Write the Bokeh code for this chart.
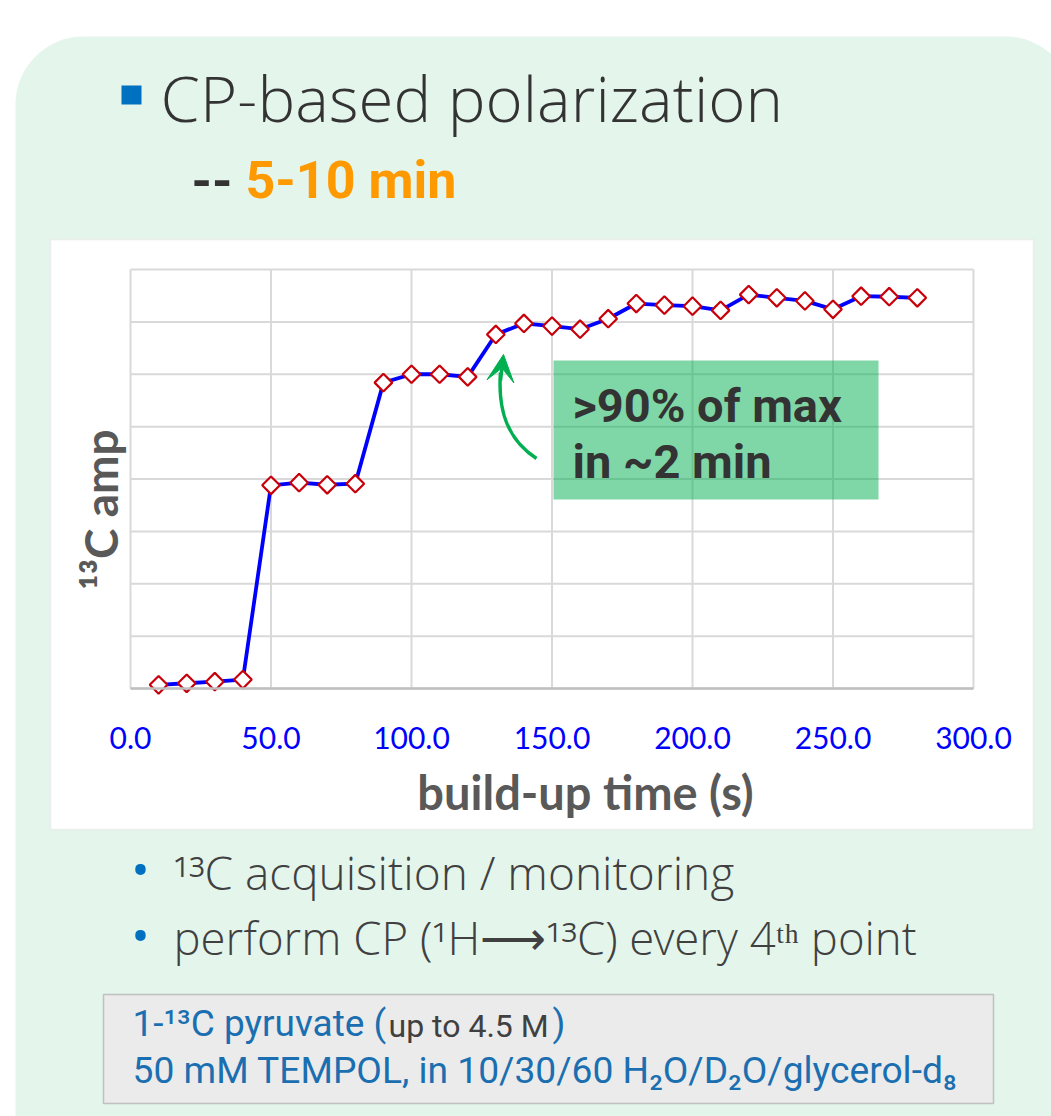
import math
from bokeh.plotting import figure
from bokeh.models import (Range1d, FixedTicker, NumeralTickFormatter, Label,
                          BoxAnnotation, Arrow, VeeHead, LinearAxis)
from bokeh.embed import file_html
from bokeh.resources import INLINE

# ---------------- data ----------------
build_up_time_s = [10, 20, 30, 40, 50, 60, 70, 80, 90, 100, 110, 120, 130, 140,
                   150, 160, 170, 180, 190, 200, 210, 220, 230, 240, 250, 260, 270, 280]
c13_amp = [0.07, 0.10, 0.13, 0.17, 3.88, 3.93, 3.89, 3.91, 5.84, 6.00, 6.00, 5.95,
           6.76, 6.97, 6.92, 6.86, 7.06, 7.35, 7.32, 7.30, 7.22, 7.52, 7.46, 7.40,
           7.24, 7.49, 7.48, 7.46]
x_ticks = [0, 50, 100, 150, 200, 250, 300]
y_ticks = [0, 1, 2, 3, 4, 5, 6, 7, 8]

X_START, X_END = 0, 300
Y_START, Y_END = 0, 8

# ---------------- page geometry (pixels) ----------------
PAGE_W, PAGE_H = 1051, 1116
F_LEFT, F_RIGHT, F_TOP, F_BOTTOM = 130, 973, 269, 688   # plot area

kx = (X_END - X_START) / (F_RIGHT - F_LEFT)
ky = (Y_END - Y_START) / (F_BOTTOM - F_TOP)
t_range = Range1d(X_START - F_LEFT * kx, X_START + (PAGE_W - F_LEFT) * kx)
a_range = Range1d(Y_START - (PAGE_H - F_BOTTOM) * ky, Y_START + F_BOTTOM * ky)

p = figure(width=PAGE_W, height=PAGE_H, output_backend="svg", toolbar_location=None,
           x_range=Range1d(0, PAGE_W), y_range=Range1d(PAGE_H, 0),
           x_axis_type=None, y_axis_type=None, min_border=0)
p.extra_x_ranges = {"t": t_range}
p.extra_y_ranges = {"amp": a_range}
p.border_fill_color = "white"
p.background_fill_color = "white"
p.outline_line_color = None

# ---------------- background panels ----------------
panel = BoxAnnotation(left=15, right=1073, top=36, bottom=1250,
                      fill_color="#e4f5ec", fill_alpha=1, line_color=None,
                      border_radius=68, level="image")
chart_box = BoxAnnotation(left=50, right=1033, top=239, bottom=829,
                          fill_color="white", fill_alpha=1, line_color="#d9d9d9",
                          line_width=2, level="image")
gray_box = BoxAnnotation(left=103, right=993, top=994, bottom=1103,
                         fill_color="#ebebeb", fill_alpha=1, line_color="#595959",
                         line_width=1.5, level="image")
title_bullet = BoxAnnotation(left=121, right=141, top=85, bottom=104,
                             fill_color="#0070c0", fill_alpha=1, line_color=None,
                             level="image")
for b in (panel, chart_box, gray_box, title_bullet):
    p.add_layout(b)

# ---------------- grid (from the tick lists, through the data scales) ----------------
p.segment(x0=x_ticks, x1=x_ticks, y0=[Y_START] * len(x_ticks), y1=[Y_END] * len(x_ticks),
          x_range_name="t", y_range_name="amp", line_color="#d9d9d9", line_width=2)
p.segment(x0=[X_START] * len(y_ticks), x1=[X_END] * len(y_ticks), y0=y_ticks, y1=y_ticks,
          x_range_name="t", y_range_name="amp", line_color="#d9d9d9", line_width=2)

# ---------------- x axis ----------------
xa = LinearAxis(x_range_name="t", y_range_name="amp", fixed_location=Y_START,
                bounds=(X_START, X_END))
xa.ticker = FixedTicker(ticks=x_ticks)
xa.formatter = NumeralTickFormatter(format="0.0")
xa.major_label_text_font = "Lato"
xa.major_label_text_font_size = "30px"
xa.major_label_text_color = "#0000ff"
xa.major_tick_line_color = None
xa.minor_tick_line_color = None
xa.major_tick_out = 0
xa.major_tick_in = 0
xa.major_label_standoff = 38
xa.axis_line_color = "#bfbfbf"
xa.axis_line_width = 2.5
p.add_layout(xa, "below")

# ---------------- data ----------------
p.line(build_up_time_s, c13_amp, x_range_name="t", y_range_name="amp",
       line_color="#0000ff", line_width=3.8)
p.scatter(build_up_time_s, c13_amp, x_range_name="t", y_range_name="amp",
          marker="square", size=12.5, angle=math.pi / 4,
          fill_color="white", line_color="#c8000a", line_width=2.2)

# ---------------- annotation box + arrow ----------------
note_box = BoxAnnotation(left=553, right=878, top=360, bottom=499,
                         fill_color="#00b050", fill_alpha=0.5, line_color=None)
p.add_layout(note_box)
p.bezier(x0=[536], y0=[458], x1=[500], y1=[372], cx0=[508], cy0=[440],
         cx1=[497], cy1=[412], line_color="#00b050", line_width=3.5)
p.add_layout(Arrow(x_start=500, y_start=380, x_end=503, y_end=354,
                   line_color="#00b050", line_width=3.5,
                   end=VeeHead(size=27, fill_color="#00b050", line_color="#00b050")))


def lab(text, px, py, size, color, font="Roboto", style="normal", align="left",
        baseline="alphabetic", angle=0, k=0.37):
    # py is the wanted baseline; Bokeh's alphabetic baseline sits a bit lower
    dy = k * size if baseline == "alphabetic" else 0
    p.add_layout(Label(x=px, y=py - dy, text=text, text_font=font,
                       text_font_size=f"{size}px", text_font_style=style,
                       text_color=color, text_align=align, text_baseline=baseline,
                       angle=angle))


LIGHT = "Open Sans Light"

lab(">90% of max", 572, 422, 47, "#333333", style="bold")
lab("in ~2 min", 572, 478, 47, "#333333", style="bold")

# axis titles
lab("¹³C amp", 100, 509, 46, "#595959", font="Lato", style="bold",
    align="center", baseline="middle", angle=math.pi / 2)
lab("build-up time (s)", 585, 810, 47, "#595959", font="Lato", style="bold",
    align="center", k=0.40)

# slide texts
lab("CP-based polarization", 160, 120, 63.5, "#333333", font=LIGHT)
lab("--", 191, 199, 52, "#333333", style="bold")
lab("5-10 min", 245, 199, 52, "#ff9900", style="bold")

lab("•", 140, 871, 52, "#0070c0", align="center", baseline="middle")
lab("¹³C acquisition / monitoring", 173, 889, 46, "#404040", font=LIGHT)
lab("•", 140, 937, 52, "#0070c0", align="center", baseline="middle")
lab("perform CP (¹H⟶¹³C) every 4ᵗʰ point", 173, 953, 45.5, "#404040", font=LIGHT)

lab("1-¹³C pyruvate (", 132, 1037, 37, "#1b6fb0")
lab("up to 4.5 M", 388, 1037, 32, "#404040")
lab(")", 552, 1037, 37, "#1b6fb0")
lab("50 mM TEMPOL, in 10/30/60 H₂O/D₂O/glycerol-d₈", 132, 1083, 37.2, "#1b6fb0")

open("out.html", "w").write(file_html(p, INLINE))
